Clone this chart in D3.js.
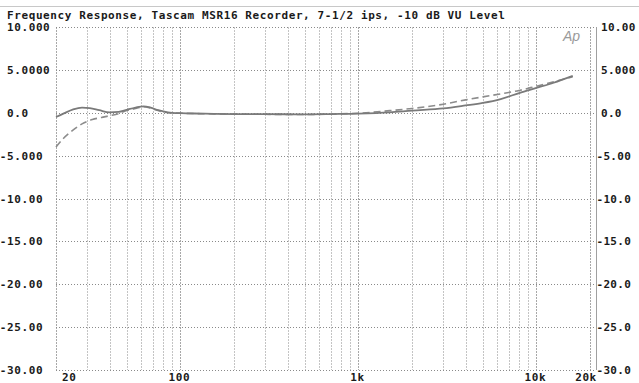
<!DOCTYPE html>
<html>
<head>
<meta charset="utf-8">
<script src="https://cdn.jsdelivr.net/npm/d3@7"></script>
<style>
  html, body { margin: 0; padding: 0; background: #fff; overflow: hidden; }
  svg { display: block; }
  .lbl { font-family: "DejaVu Sans Mono", monospace; font-weight: bold; font-size: 11px; letter-spacing: 0.6px; fill: #1a1a1a; }
  .yr { letter-spacing: 0.3px; }
</style>
</head>
<body>
<svg id="chart" width="639" height="383"></svg>
<script>
// Frequency response of the recorder, dB vs Hz
const title = "Frequency Response, Tascam MSR16 Recorder, 7-1/2 ips, -10 dB VU Level";

const freqA = [20, 22, 25, 28, 31, 35, 40, 45, 50, 56, 62, 68, 75, 85, 100, 130, 200, 300, 500, 700,
               1000, 1500, 2000, 3000, 4000, 5000, 6300, 8000, 10000, 12500, 16000];
const levelA = [-0.5, -0.1, 0.4, 0.6, 0.55, 0.3, 0.05, 0.1, 0.35, 0.6, 0.75, 0.6, 0.3, 0.05, -0.05, -0.1, -0.15, -0.15, -0.2, -0.15,
                -0.1, 0.05, 0.25, 0.5, 0.85, 1.15, 1.6, 2.3, 2.9, 3.5, 4.3];

const freqB = [20, 22, 25, 28, 32, 36, 40, 45, 50, 56, 62, 68, 75, 85, 100, 200, 500,
               1000, 1500, 2000, 3000, 4000, 5000, 6300, 8000, 10000, 12500, 16000];
const levelB = [-4.0, -3.0, -2.0, -1.3, -0.8, -0.55, -0.35, -0.1, 0.25, 0.5, 0.7, 0.55, 0.25, 0.0, -0.05, -0.15, -0.2,
                -0.05, 0.25, 0.5, 1.0, 1.5, 1.85, 2.2, 2.6, 3.1, 3.6, 4.2];

const yTicks = [10, 5, 0, -5, -10, -15, -20, -25, -30];
const yTickLabels = ["10.000", "5.0000", "0.0", "-5.000", "-10.00", "-15.00", "-20.00", "-25.00", "-30.00"];
const yTickLabelsRight = ["10.00", "5.000", "0.0", "-5.00", "-10.0", "-15.0", "-20.0", "-25.0", "-30.0"];
const xTicks = [20, 100, 1000, 10000, 20000];
const xTickLabels = ["20", "100", "1k", "10k", "20k"];
const minorFreqs = [30, 40, 50, 60, 70, 80, 90, 200, 300, 400, 500, 600, 700, 800, 900,
                    2000, 3000, 4000, 5000, 6000, 7000, 8000, 9000];

const svg = d3.select("#chart");
const plotL = 56, plotR = 596, plotT = 27, plotB = 370;

const x = d3.scaleLog().domain([20, 20000]).range([plotL, 590]);
const y = d3.scaleLinear().domain([-30, 10]).range([plotB, plotT]);

// faint frame line along the very top
svg.append("line").attr("x1", 0).attr("x2", 639).attr("y1", 6.5).attr("y2", 6.5)
  .attr("stroke", "#c8c8c8").attr("stroke-width", 1);

// vertical grid
const g = svg.append("g");
g.selectAll("line.minor").data(minorFreqs).join("line")
  .attr("class", "minor")
  .attr("x1", d => Math.round(x(d)) + 0.5).attr("x2", d => Math.round(x(d)) + 0.5)
  .attr("y1", plotT).attr("y2", plotB)
  .attr("stroke", "#c4c4c4").attr("stroke-width", 1).attr("stroke-dasharray", "2,1");
g.selectAll("line.major").data(xTicks).join("line")
  .attr("class", "major")
  .attr("x1", d => Math.round(x(d)) + 0.5).attr("x2", d => Math.round(x(d)) + 0.5)
  .attr("y1", plotT).attr("y2", plotB)
  .attr("stroke", "#a8a8a8").attr("stroke-width", 1).attr("stroke-dasharray", "2,1");
g.append("line").attr("x1", plotR + 0.5).attr("x2", plotR + 0.5).attr("y1", plotT).attr("y2", plotB)
  .attr("stroke", "#a0a0a0").attr("stroke-width", 1);

// horizontal grid (dotted)
g.selectAll("line.h").data(yTicks).join("line")
  .attr("class", "h")
  .attr("x1", plotL).attr("x2", plotR)
  .attr("y1", d => Math.round(y(d)) + 0.5).attr("y2", d => Math.round(y(d)) + 0.5)
  .attr("stroke", "#8a8a8a").attr("stroke-width", 1).attr("stroke-dasharray", "1,2");

// Audio Precision mark
svg.append("text").attr("x", 563).attr("y", 41)
  .attr("font-family", "Liberation Sans, sans-serif").attr("font-style", "italic")
  .attr("font-size", 14).attr("fill", "#9a9a9a").text("Ap");

// curves
const line = d3.line().x(d => x(d[0])).y(d => y(d[1])).curve(d3.curveMonotoneX);
svg.append("path").datum(d3.zip(freqB, levelB))
  .attr("d", line).attr("fill", "none")
  .attr("stroke", "#8c8c8c").attr("stroke-width", 1.6).attr("stroke-dasharray", "7,4");
svg.append("path").datum(d3.zip(freqA, levelA))
  .attr("d", line).attr("fill", "none")
  .attr("stroke", "#7a7a7a").attr("stroke-width", 1.8);

// title
svg.append("text").attr("class", "lbl").attr("x", 7).attr("y", 19).text(title);

// y labels both sides; a leading minus hangs left of the digits
const charW = 7.2;
svg.selectAll("text.yl").data(yTicks).join("text")
  .attr("class", "lbl yl")
  .attr("x", (d, i) => 7 - (yTickLabels[i][0] === "-" ? charW : 0))
  .attr("y", d => y(d) + 4)
  .text((d, i) => yTickLabels[i]);
svg.selectAll("text.yr").data(yTicks).join("text")
  .attr("class", "lbl yr")
  .attr("x", (d, i) => 601 - (yTickLabelsRight[i][0] === "-" ? 4.5 : 0))
  .attr("y", d => y(d) + 4)
  .text((d, i) => yTickLabelsRight[i]);

// x labels
svg.selectAll("text.xl").data(xTicks).join("text")
  .attr("class", "lbl xl")
  .attr("x", (d, i) => i === 0 ? x(d) + 6 : (i === xTicks.length - 1 ? x(d) - 4 : x(d) - 1))
  .attr("y", 381)
  .attr("text-anchor", (d, i) => i === 0 ? "start" : "middle")
  .text((d, i) => xTickLabels[i]);
</script>
</body>
</html>
